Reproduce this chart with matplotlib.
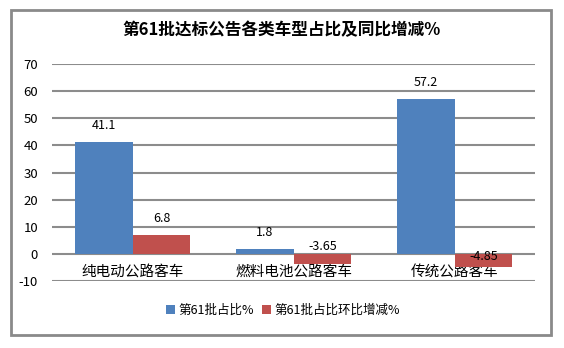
import matplotlib
matplotlib.use("Agg")
import matplotlib.pyplot as plt
import numpy as np
from matplotlib.patches import Rectangle

plt.rcParams['font.family'] = ['Noto Sans CJK SC', 'DejaVu Sans']

title = "第61批达标公告各类车型占比及同比增减%"
categories = ["纯电动公路客车", "燃料电池公路客车", "传统公路客车"]
series_names = ["第61批占比%", "第61批占比环比增减%"]
share = [41.1, 1.8, 57.2]
change = [6.8, -3.65, -4.85]
yticks = [-10, 0, 10, 20, 30, 40, 50, 60, 70]

blue = "#4F81BD"
red = "#C0504D"
grid_c = "#8C8C8C"

fig = plt.figure(figsize=(5.64, 3.48), dpi=100)
fig.patch.set_facecolor("white")
# outer chart border
fig.patches.append(Rectangle((11/564, 1 - 335/348), (551-11)/564, (335-10)/348,
                             transform=fig.transFigure, fill=False,
                             edgecolor="#8A8A8A", linewidth=2))

ax = fig.add_axes([52/564, 1 - 281/348, (535-52)/564, (281-64)/348])
x = np.arange(len(categories))
w = 0.36
b1 = ax.bar(x - w/2, share, w, color=blue, zorder=3)
b2 = ax.bar(x + w/2, change, w, color=red, zorder=3)

ax.set_xlim(-0.5, 2.5)
ax.set_ylim(-10, 70)
ax.set_yticks(yticks)
ax.set_yticklabels([str(t) for t in yticks], fontsize=9.5)
ax.tick_params(axis='y', length=0, pad=10)
ax.set_xticks([])
for s in ax.spines.values():
    s.set_visible(False)
ax.grid(axis='y', color=grid_c, linewidth=1.5, zorder=0)
ax.set_axisbelow(True)

# category labels hang just below the zero line
for xi, c in zip(x, categories):
    ax.annotate(c, (xi, 0), xytext=(0, -13.5), textcoords="offset points",
                ha="center", va="center", fontsize=10.5, zorder=2)

# value labels
share_off = [12, 12, 12]
change_off = [12, 5, -2]
for xi, v, o in zip(x, share, share_off):
    ax.annotate(f"{v:g}", (xi - w/2, max(v, 0)), xytext=(0, o),
                textcoords="offset points", ha="center", va="center", fontsize=9)
for xi, v, o in zip(x, change, change_off):
    ax.annotate(f"{v:g}", (xi + w/2, max(v, 0)), xytext=(0, o),
                textcoords="offset points", ha="center", va="center",
                fontsize=9, zorder=4)

fig.text(0.5, 1 - 30/348, title, ha="center", va="center",
         fontsize=12, fontweight="bold")

leg = fig.legend([b1, b2], series_names, loc="center", ncol=2,
                 bbox_to_anchor=(283/564, 1 - 310/348), frameon=False,
                 fontsize=9, handlelength=0.7, handleheight=0.7,
                 handletextpad=0.3, columnspacing=0.6)

fig.savefig("out.png", dpi=100, facecolor="white")
